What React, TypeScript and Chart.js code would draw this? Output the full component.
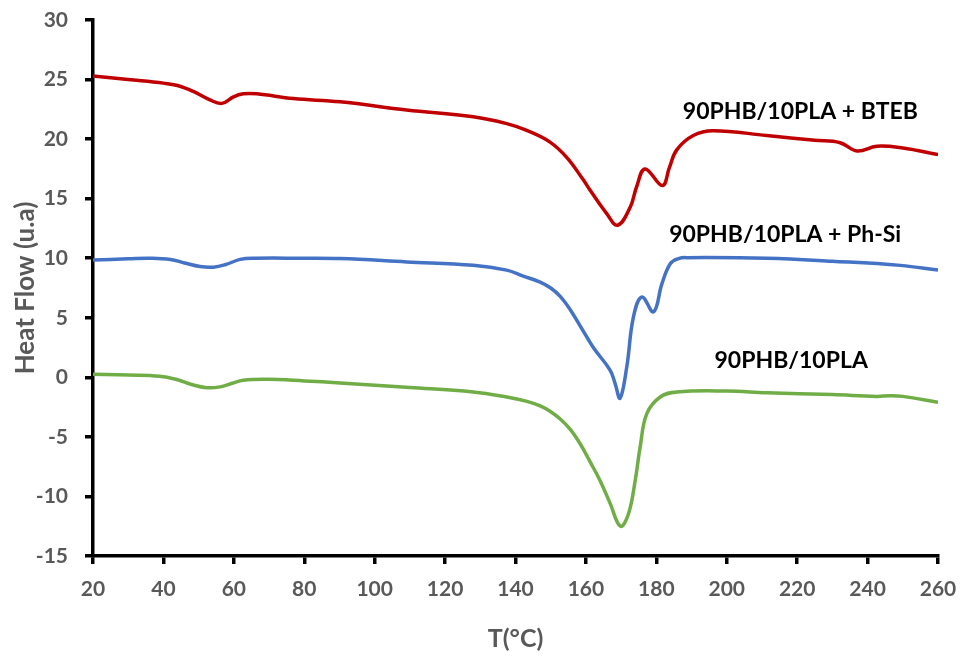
import React, { useEffect, useRef } from "react";
import { Chart, registerables } from "chart.js";

Chart.register(...registerables);

// 90PHB/10PLA + BTEB (red)
const btebT = [20, 30, 40, 44, 48.5, 53.2, 56.6, 59.9, 62.7, 66.5, 76.9, 90.2, 109.1, 128, 137.5, 143, 149.8, 154.6, 159.2, 161.2, 165.9, 169, 172.6, 174.4, 176.8, 181.7, 183.7, 185.8, 190.5, 196.1, 211.4, 225, 232.2, 237, 242.6, 250, 260];
const btebHF = [25.3, 25.0, 24.7, 24.5, 24.0, 23.3, 23.0, 23.55, 23.8, 23.8, 23.4, 23.13, 22.44, 21.87, 21.3, 20.75, 19.75, 18.45, 16.6, 15.7, 13.75, 12.77, 14.3, 16.0, 17.5, 16.1, 17.6, 19.1, 20.3, 20.7, 20.3, 19.9, 19.7, 19.0, 19.4, 19.25, 18.7];

// 90PHB/10PLA + Ph-Si (blue)
const phsiT = [20, 30, 36.2, 42, 46, 50.4, 54.2, 57.5, 61.8, 66, 78.8, 90.2, 109.1, 128, 137.5, 142.2, 147, 150, 152.7, 155.5, 158.4, 162.1, 166.9, 168.3, 169.7, 171.6, 173.5, 175.9, 179.2, 181.6, 184, 186.3, 188.7, 211.4, 230, 249.3, 260];
const phsiHF = [9.85, 9.95, 10.0, 9.9, 9.6, 9.3, 9.25, 9.45, 9.9, 10.0, 10.0, 9.97, 9.69, 9.41, 9.0, 8.5, 8.0, 7.5, 6.8, 5.7, 4.3, 2.5, 0.59, -0.53, -1.75, 0.87, 5.07, 6.75, 5.5, 7.87, 9.55, 9.97, 10.05, 10.0, 9.75, 9.4, 9.0];

// 90PHB/10PLA (green)
const plaT = [20, 30, 39, 44, 48, 52.3, 56.1, 59.5, 62.7, 69.3, 80, 90.2, 110, 128, 137.5, 143, 147, 149.8, 152.7, 155.5, 158.4, 161.2, 164, 166.9, 169.8, 172.1, 174, 175.4, 177.3, 181.1, 185.8, 200, 211.4, 230, 242.6, 246.4, 250, 260];
const plaHF = [0.25, 0.2, 0.1, -0.2, -0.6, -0.87, -0.8, -0.5, -0.25, -0.17, -0.3, -0.47, -0.85, -1.23, -1.65, -2.0, -2.4, -2.85, -3.5, -4.35, -5.6, -7.1, -8.66, -10.6, -12.5, -11.45, -8.66, -5.86, -3.05, -1.65, -1.23, -1.15, -1.3, -1.45, -1.6, -1.55, -1.6, -2.1];

const seriesNames = ["90PHB/10PLA + BTEB", "90PHB/10PLA + Ph-Si", "90PHB/10PLA"];
const seriesColors = ["#C00000", "#4472C4", "#70AD47"];
// label anchor positions in data units (T, heat flow)
const labelT = [220.9, 216.6, 218.3];
const labelHF = [22.3, 12.0, 1.37];

const xTicksMin = 20;
const xTicksMax = 260;
const xStep = 20;
const yMin = -15;
const yMax = 30;
const yStep = 5;

const toPoints = (xs: number[], ys: number[]) => xs.map((x, i) => ({ x, y: ys[i] }));

const labelPlugin = {
  id: "seriesLabels",
  afterDatasetsDraw(chart: any) {
    const { ctx, scales } = chart;
    ctx.save();
    ctx.fillStyle = "#000000";
    ctx.font = "bold 23px Lato";
    ctx.textAlign = "center";
    ctx.textBaseline = "middle";
    seriesNames.forEach((name, i) => {
      const px = scales.x.getPixelForValue(labelT[i]);
      const py = scales.y.getPixelForValue(labelHF[i]);
      ctx.fillText(name, px, py);
    });
    ctx.restore();
  },
};

export default function App() {
  const ref = useRef<HTMLCanvasElement>(null);
  useEffect(() => {
    document.body.style.margin = "0";
    const canvas = ref.current!;
    const tickFont = { family: "Lato", size: 21, weight: "bold" as const };
    const gridOpts = {
      drawOnChartArea: false,
      drawTicks: true,
      tickLength: 8,
      lineWidth: 3.5,
      tickWidth: 3.5,
      color: "#000",
      tickColor: "#000",
    };
    const chart = new Chart(canvas, {
      type: "line",
      data: {
        datasets: [
          { label: seriesNames[0], data: toPoints(btebT, btebHF) },
          { label: seriesNames[1], data: toPoints(phsiT, phsiHF) },
          { label: seriesNames[2], data: toPoints(plaT, plaHF) },
        ].map((d, i) => ({
          ...d,
          borderColor: seriesColors[i],
          backgroundColor: seriesColors[i],
          borderWidth: 3.5,
          pointRadius: 0,
          fill: false,
          tension: 0.4,
        })),
      },
      options: {
        responsive: false,
        animation: false,
        layout: { padding: { top: 20, right: 25, left: 0, bottom: 0 } },
        plugins: { legend: { display: false }, tooltip: { enabled: false } },
        scales: {
          x: {
            type: "linear",
            min: xTicksMin,
            max: xTicksMax,
            ticks: { stepSize: xStep, color: "#595959", font: tickFont, padding: 13 },
            grid: gridOpts,
            border: { display: true, color: "#000", width: 3.5 },
            title: {
              display: true,
              text: "T(°C)",
              color: "#595959",
              font: { family: "Lato", size: 25, weight: "bold" },
              padding: { top: 0, bottom: 7 },
            },
            afterFit: (s: any) => {
              s.height = 105;
              s.paddingLeft = 0;
              s.paddingRight = 0;
            },
          },
          y: {
            type: "linear",
            min: yMin,
            max: yMax,
            ticks: { stepSize: yStep, color: "#595959", font: tickFont, padding: 17 },
            grid: gridOpts,
            border: { display: true, color: "#000", width: 3.5 },
            title: {
              display: true,
              text: "Heat Flow (u.a)",
              color: "#595959",
              font: { family: "Lato", size: 26, weight: "bold" },
              padding: { top: 10, bottom: 0 },
            },
            afterFit: (s: any) => {
              s.width = 93;
              s.paddingTop = 0;
              s.paddingBottom = 0;
            },
          },
        },
      },
      plugins: [labelPlugin],
    });
    return () => chart.destroy();
  }, []);
  return (
    <div style={{ width: 963, height: 661, background: "#fff" }}>
      <canvas ref={ref} width={963} height={661} style={{ display: "block" }} />
    </div>
  );
}
